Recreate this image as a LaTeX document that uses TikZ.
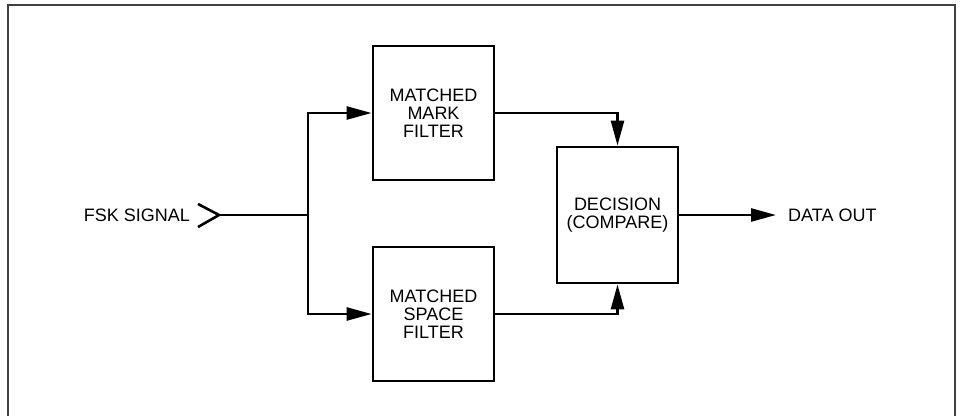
\documentclass[tikz,border=0pt]{standalone}
\usepackage{fontspec}
\setmainfont{Liberation Sans}
\usetikzlibrary{arrows.meta}
\definecolor{framegray}{HTML}{404040}
\tikzset{
  block/.style={draw=black, line width=2.8pt, minimum width=121pt, minimum height=134pt, inner sep=0pt, align=center, font=\fontsize{18}{18.2}\selectfont},
  lbl/.style={inner sep=0pt, font=\fontsize{18}{18.2}\selectfont},
  wire/.style={line width=2.6pt, black},
  flow/.style={wire, -{Triangle[length=25pt,width=13pt]}},
}
\begin{document}
\begin{tikzpicture}[x=1pt,y=-1pt]
\useasboundingbox (0,0) rectangle (963,415);
% outer frame (open at the bottom)
\draw[framegray, line width=1.6pt] (8,416) -- (8,5) -- (955,5) -- (955,416);
% blocks
\node[block] (mark) at (433.5,113) {MATCHED\\MARK\\FILTER};
\node[block] (space) at (433.5,314) {MATCHED\\SPACE\\FILTER};
\node[block, minimum height=136pt] (decision) at (617.5,215) {DECISION\\(COMPARE)};
% labels
\node[lbl, anchor=east] (fsk) at (190,215) {FSK SIGNAL};
\node[lbl, anchor=west, inner xsep=12pt] (dataout) at (776,215) {DATA OUT};
% input chevron
\coordinate (tip) at (219,215);
\draw[wire] (198,204) -- (tip) -- (198,227);
\coordinate (split) at (308,215);
\draw[wire] (tip) -- (split);
\draw[flow] (split) |- (mark.west);
\draw[flow] (split) |- (space.west);
\draw[flow] (mark.east) -| (decision.north);
\draw[flow] (space.east) -| (decision.south);
\draw[flow] (decision.east) -- (dataout.west);
\end{tikzpicture}
\end{document}
